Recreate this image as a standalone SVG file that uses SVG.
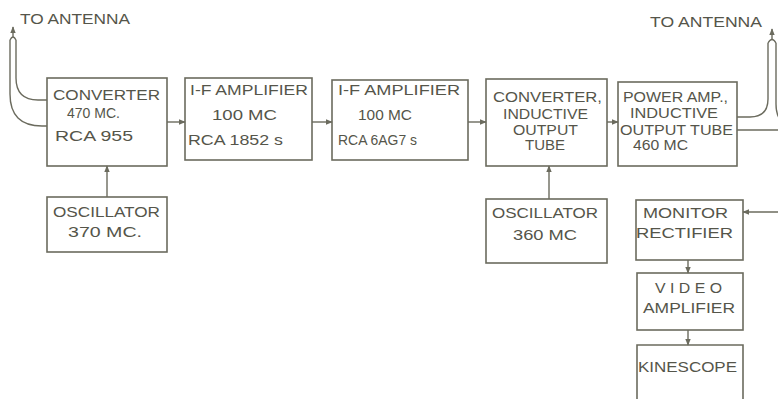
<svg xmlns="http://www.w3.org/2000/svg" width="778" height="399" viewBox="0 0 778 399">
<defs>
<style>
.box{fill:none;stroke:#6b6b5e;stroke-width:1.6}
.ln{fill:none;stroke:#6b6b5e;stroke-width:1.4}
text{font-family:"Liberation Sans",Arial,sans-serif;font-size:14px;fill:#55554a}
</style>
<marker id="ah" viewBox="0 0 10 10" refX="9" refY="5" markerWidth="5" markerHeight="5" orient="auto">
<path d="M0,1 L10,5 L0,9 Z" fill="#6b6b5e"/>
</marker>
</defs>
<rect width="778" height="399" fill="#ffffff"/>
<g id="connectors">
<path class="ln" d="M47,100 L38,100 Q16,100 16,78 L16,40"/>
<path class="ln" d="M47,126 L42,126 Q10,126 10,94 L10,40"/>
<path class="ln" d="M10,40 Q13,34 16,40"/>
<line class="ln" x1="13" y1="37" x2="13" y2="27" marker-end="url(#ah)"/>
<path class="ln" d="M737,117 L750,117 Q768,117 768,99 L768,43"/>
<path class="ln" d="M737,130 L778,130"/>
<path class="ln" d="M776,43 L776,104 Q776,116 782,122"/>
<path class="ln" d="M768,43 Q772,36 776,43"/>
<line class="ln" x1="772" y1="39" x2="772" y2="29" marker-end="url(#ah)"/>
<line class="ln" x1="167" y1="122" x2="185" y2="122" marker-end="url(#ah)"/>
<line class="ln" x1="312" y1="122" x2="332" y2="122" marker-end="url(#ah)"/>
<line class="ln" x1="468" y1="122" x2="486" y2="122" marker-end="url(#ah)"/>
<line class="ln" x1="607" y1="122" x2="618" y2="122" marker-end="url(#ah)"/>
<line class="ln" x1="107" y1="197" x2="107" y2="166" marker-end="url(#ah)"/>
<line class="ln" x1="549" y1="199" x2="549" y2="166" marker-end="url(#ah)"/>
<line class="ln" x1="778" y1="212" x2="743" y2="212" marker-end="url(#ah)"/>
<line class="ln" x1="688" y1="260" x2="688" y2="273" marker-end="url(#ah)"/>
<line class="ln" x1="688" y1="330" x2="688" y2="345" marker-end="url(#ah)"/>
</g>
<g id="labels">
<text x="20" y="24" textLength="110" lengthAdjust="spacingAndGlyphs">TO ANTENNA</text>
<text x="650" y="27" textLength="112" lengthAdjust="spacingAndGlyphs">TO ANTENNA</text>
</g>
<g id="converter1">
<rect class="box" x="47" y="78" width="120" height="88"/>
<text x="53" y="100" textLength="107" lengthAdjust="spacingAndGlyphs">CONVERTER</text>
<text x="67" y="118" textLength="53" lengthAdjust="spacingAndGlyphs">470 MC.</text>
<text x="55" y="141" textLength="78" lengthAdjust="spacingAndGlyphs">RCA 955</text>
</g>
<g id="if1">
<rect class="box" x="185" y="78" width="127" height="82"/>
<text x="190" y="95" textLength="118" lengthAdjust="spacingAndGlyphs">I-F AMPLIFIER</text>
<text x="212" y="120" textLength="65" lengthAdjust="spacingAndGlyphs">100 MC</text>
<text x="188" y="145" textLength="95" lengthAdjust="spacingAndGlyphs">RCA 1852 s</text>
</g>
<g id="if2">
<rect class="box" x="332" y="80" width="136" height="80"/>
<text x="338" y="95" textLength="122" lengthAdjust="spacingAndGlyphs">I-F AMPLIFIER</text>
<text x="358" y="120" textLength="54" lengthAdjust="spacingAndGlyphs">100 MC</text>
<text x="338" y="145" textLength="79" lengthAdjust="spacingAndGlyphs">RCA 6AG7 s</text>
</g>
<g id="converter2">
<rect class="box" x="486" y="79" width="121" height="87"/>
<text x="493" y="102" textLength="109" lengthAdjust="spacingAndGlyphs">CONVERTER,</text>
<text x="503" y="119" textLength="85" lengthAdjust="spacingAndGlyphs">INDUCTIVE</text>
<text x="513" y="135" textLength="65" lengthAdjust="spacingAndGlyphs">OUTPUT</text>
<text x="525" y="150" textLength="40" lengthAdjust="spacingAndGlyphs">TUBE</text>
</g>
<g id="poweramp">
<rect class="box" x="618" y="82" width="119" height="84"/>
<text x="623" y="102" textLength="105" lengthAdjust="spacingAndGlyphs">POWER AMP.,</text>
<text x="630" y="118" textLength="88" lengthAdjust="spacingAndGlyphs">INDUCTIVE</text>
<text x="620" y="135" textLength="113" lengthAdjust="spacingAndGlyphs">OUTPUT TUBE</text>
<text x="633" y="150" textLength="55" lengthAdjust="spacingAndGlyphs">460 MC</text>
</g>
<g id="osc1">
<rect class="box" x="47" y="197" width="120" height="55"/>
<text x="53" y="217" textLength="107" lengthAdjust="spacingAndGlyphs">OSCILLATOR</text>
<text x="68" y="237" textLength="74" lengthAdjust="spacingAndGlyphs">370 MC.</text>
</g>
<g id="osc2">
<rect class="box" x="486" y="199" width="121" height="64"/>
<text x="492" y="218" textLength="106" lengthAdjust="spacingAndGlyphs">OSCILLATOR</text>
<text x="513" y="240" textLength="64" lengthAdjust="spacingAndGlyphs">360 MC</text>
</g>
<g id="monitor">
<rect class="box" x="636" y="200" width="107" height="60"/>
<text x="643" y="218" textLength="85" lengthAdjust="spacingAndGlyphs">MONITOR</text>
<text x="636" y="238" textLength="97" lengthAdjust="spacingAndGlyphs">RECTIFIER</text>
</g>
<g id="video">
<rect class="box" x="637" y="273" width="106" height="57"/>
<text x="655" y="293" textLength="67" lengthAdjust="spacingAndGlyphs">V I D E O</text>
<text x="643" y="313" textLength="92" lengthAdjust="spacingAndGlyphs">AMPLIFIER</text>
</g>
<g id="kinescope">
<path class="box" d="M637,402 L637,345 L743,345 L743,402"/>
<text x="638" y="372" textLength="99" lengthAdjust="spacingAndGlyphs">KINESCOPE</text>
</g>
</svg>
